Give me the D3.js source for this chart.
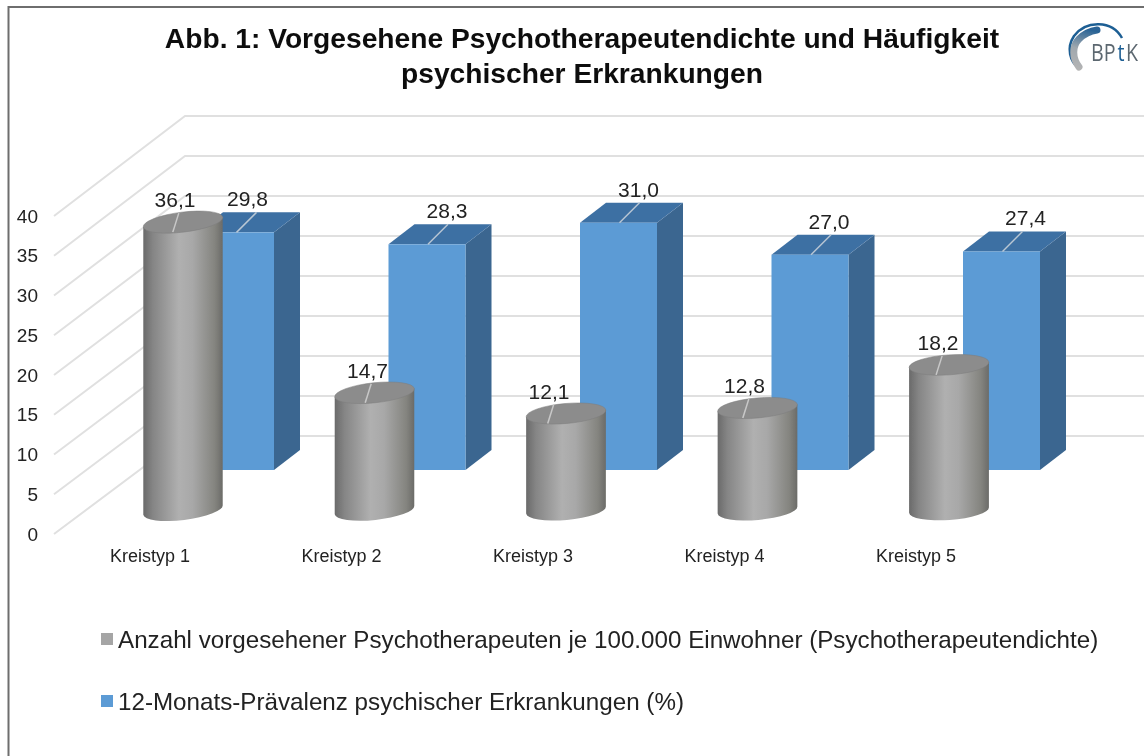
<!DOCTYPE html>
<html>
<head>
<meta charset="utf-8">
<script src="https://cdn.jsdelivr.net/npm/d3@7"></script>
<style>
  html, body { margin: 0; padding: 0; background: #fff; }
  svg { display: block; font-family: "Liberation Sans", Arial, sans-serif; }
</style>
</head>
<body>
<div id="chart"></div>
<script>
var categories = ["Kreistyp 1", "Kreistyp 2", "Kreistyp 3", "Kreistyp 4", "Kreistyp 5"];
var dichte = [36.1, 14.7, 12.1, 12.8, 18.2];
var praevalenz = [29.8, 28.3, 31.0, 27.0, 27.4];
var yTicks = [0, 5, 10, 15, 20, 25, 30, 35, 40];
var titleLines = ["Abb. 1: Vorgesehene Psychotherapeutendichte und Häufigkeit", "psychischer Erkrankungen"];
var legendLabels = [
    "Anzahl vorgesehener Psychotherapeuten je 100.000 Einwohner (Psychotherapeutendichte)",
    "12-Monats-Prävalenz psychischer Erkrankungen (%)"
];

var width = 1144;
var height = 756;

var svg = d3.select("#chart")
    .append("svg")
    .attr("width", width)
    .attr("height", height);

var defs = svg.append("defs");

var grad = defs.append("linearGradient").attr("id", "cyl");
[[0, "#6a6a6a"], [0.12, "#858585"], [0.45, "#b0b0b0"], [0.62, "#a8a8a8"], [0.9, "#84847f"], [1, "#6b6b68"]].forEach(s => {
    grad.append("stop").attr("offset", s[0]).attr("stop-color", s[1]);
});

var logoGrad = defs.append("linearGradient").attr("id", "logoArc")
    .attr("gradientUnits", "userSpaceOnUse")
    .attr("x1", 1080).attr("y1", 70).attr("x2", 1090).attr("y2", 30);
logoGrad.append("stop").attr("offset", 0).attr("stop-color", "#b4b4b4");
logoGrad.append("stop").attr("offset", 0.5).attr("stop-color", "#a0a8ae");
logoGrad.append("stop").attr("offset", 1).attr("stop-color", "#2a6496");

defs.append("filter").attr("id", "soft")
    .append("feGaussianBlur").attr("stdDeviation", 0.5);

var root = svg.append("g").attr("filter", "url(#soft)");

// frame of the slide, open at the bottom and right
root.append("path")
    .attr("d", "M1144,7H8.5V756")
    .attr("fill", "none")
    .attr("stroke", "#6e6e6e")
    .attr("stroke-width", 2);

// title
root.append("g").selectAll("text")
    .data(titleLines)
    .join("text")
    .attr("x", 582)
    .attr("y", (d, i) => 48 + i * 35)
    .attr("text-anchor", "middle")
    .attr("font-weight", "bold")
    .attr("font-size", 28.2)
    .attr("fill", "#111")
    .text(d => d);

// logo
root.append("path")
    .attr("d", "M1079,68C1070,62 1066,48 1074,36C1086,20 1112,20 1122,38")
    .attr("fill", "none")
    .attr("stroke", "#1f5f94")
    .attr("stroke-width", 2.5);
root.append("path")
    .attr("d", "M1079,67C1072,58 1072,46 1079,39C1084,34 1090,31 1097,30")
    .attr("fill", "none")
    .attr("stroke", "url(#logoArc)")
    .attr("stroke-linecap", "round")
    .attr("stroke-width", 7);
root.append("g").selectAll("text")
    .data([["BP", 1091, "#5c6770"], ["t", 1117.5, "#1f5f94"], ["K", 1126, "#5c6770"]])
    .join("text")
    .attr("transform", d => "translate(" + d[1] + ",61) scale(0.82,1)")
    .attr("font-family", "'Open Sans', sans-serif")
    .attr("font-size", 24)
    .attr("fill", d => d[2])
    .text(d => d[0]);

// scales: same values on the front edge of the floor, on the back wall, and as a bar height
var yFront = d3.scaleLinear().domain([0, 40]).range([534, 216]);
var yBack = d3.scaleLinear().domain([0, 40]).range([436, 116]);
var h = d3.scaleLinear().domain([0, 40]).range([0, 319]);
var x = d3.scalePoint().domain(categories).range([183, 949]);

var frontX = 54, backX = 185;

// gridlines: side wall then back wall
var grid = root.append("g").attr("fill", "none").attr("stroke", "#e0e0e0").attr("stroke-width", 2);
grid.selectAll("path")
    .data(yTicks)
    .join("path")
    .attr("d", d => "M" + frontX + "," + yFront(d) + "L" + backX + "," + yBack(d) + "H" + width);

// y axis labels
var axis = root.append("g")
    .attr("transform", "translate(38,0)")
    .call(d3.axisLeft(yFront).tickValues(yTicks).tickSize(0).tickPadding(0));
axis.select(".domain").remove();
axis.selectAll("text")
    .attr("font-size", 19)
    .attr("font-family", "'Liberation Sans', Arial, sans-serif")
    .attr("fill", "#222");

// category labels
root.append("g").selectAll("text")
    .data(categories)
    .join("text")
    .attr("x", d => x(d) - 33)
    .attr("y", 562)
    .attr("text-anchor", "middle")
    .attr("font-size", 18)
    .attr("textLength", 80)
    .attr("lengthAdjust", "spacingAndGlyphs")
    .attr("fill", "#222")
    .text(d => d);

var fmt = v => d3.format(".1f")(v).replace(".", ",");

// boxes (behind the cylinders)
var boxBase = 470, boxW = 77, boxDx = 26, boxDy = 20, boxShift = 91;
var praevalenzNudge = [12, 20, 20, 19, 24];
var boxes = root.append("g").selectAll("g")
    .data(categories)
    .join("g");

boxes.each(function (d, i) {
    var g = d3.select(this);
    var r = x(d) + boxShift;
    var l = r - boxW;
    var top = boxBase - h(praevalenz[i]);
    g.append("path")
        .attr("fill", "#3b6690")
        .attr("d", `M${r},${boxBase}L${r + boxDx},${boxBase - boxDy}V${top - boxDy}L${r},${top}Z`);
    g.append("path")
        .attr("fill", "#3e70a3")
        .attr("d", `M${l},${top}L${l + boxDx},${top - boxDy}H${r + boxDx}L${r},${top}Z`);
    g.append("rect")
        .attr("fill", "#5b9bd5")
        .attr("x", l).attr("y", top).attr("width", boxW).attr("height", h(praevalenz[i]));
    g.append("line")
        .attr("stroke", "#b9c7d4").attr("stroke-width", 1.5)
        .attr("x1", (l + r) / 2 + 1).attr("y1", top)
        .attr("x2", (l + r) / 2 + boxDx - 5).attr("y2", top - boxDy);
    g.append("text")
        .attr("x", (l + r) / 2 + praevalenzNudge[i])
        .attr("y", top - boxDy - 6)
        .attr("text-anchor", "middle")
        .attr("font-size", 21)
        .attr("fill", "#222")
        .text(fmt(praevalenz[i]));
});

// cylinders
var cylBase = 510, rx = 40, ry = 10;
var tilts = [-7, -6, -5, -5, -4];
var dichteNudge = [-8, -7, -17, -13, -11];
var cyls = root.append("g").selectAll("g")
    .data(categories)
    .join("g");

cyls.each(function (d, i) {
    var g = d3.select(this);
    var cx = x(d);
    var tilt = tilts[i];
    var top = cylBase - h(dichte[i]);
    var tx = rx * Math.cos(tilt * Math.PI / 180);
    var ty = rx * Math.sin(tilt * Math.PI / 180);
    // body: the top edge is covered by the ellipse, the bottom is the lower half of the base ellipse
    g.append("path")
        .attr("fill", "url(#cyl)")
        .attr("d", `M${cx - tx},${top - ty}L${cx + tx},${top + ty}L${cx + tx},${cylBase + ty}` +
            `A${rx},${ry} ${tilt} 0 1 ${cx - tx},${cylBase - ty}Z`);
    g.append("ellipse")
        .attr("fill", "#8c8c8c")
        .attr("stroke", "#7d7d7d")
        .attr("stroke-width", 0.5)
        .attr("rx", rx).attr("ry", ry)
        .attr("transform", `translate(${cx},${top}) rotate(${tilt})`);
    g.append("line")
        .attr("stroke", "#c8c8c8").attr("stroke-width", 1.5)
        .attr("x1", cx + dichteNudge[i] * 0.9 - 3).attr("y1", top + 10)
        .attr("x2", cx + dichteNudge[i] * 0.9 + 3).attr("y2", top - 9);
    g.append("text")
        .attr("x", cx + dichteNudge[i])
        .attr("y", top - 15)
        .attr("text-anchor", "middle")
        .attr("font-size", 21)
        .attr("fill", "#222")
        .text(fmt(dichte[i]));
});

// legend
var legendColors = ["#a5a5a5", "#5b9bd5"];
var legend = root.append("g").selectAll("g")
    .data(legendLabels)
    .join("g")
    .attr("transform", (d, i) => "translate(101," + (i === 0 ? 633 : 695) + ")");
legend.append("rect")
    .attr("width", 12).attr("height", 12)
    .attr("fill", (d, i) => legendColors[i]);
legend.append("text")
    .attr("x", 17)
    .attr("y", 15)
    .attr("font-size", 24.2)
    .attr("fill", "#222")
    .text(d => d);
</script>
</body>
</html>
